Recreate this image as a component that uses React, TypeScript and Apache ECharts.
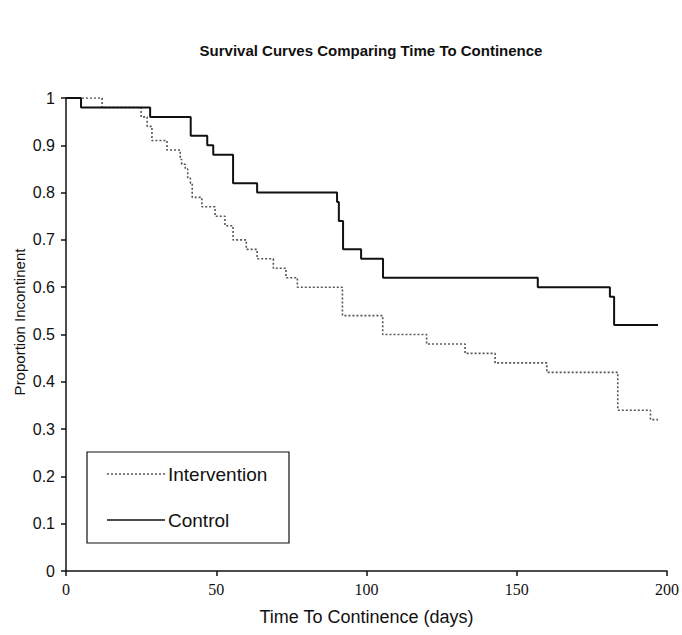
import React, { useEffect, useRef } from "react";
import * as echarts from "echarts";

const title = "Survival Curves Comparing Time To Continence";
const xAxisName = "Time To Continence (days)";
const yAxisName = "Proportion Incontinent";
const legendNames = ["Intervention", "Control"];

const interventionDays = [0, 12, 25, 27, 28.6, 33.6, 38, 38.5, 39.7, 40.5, 41.4, 42, 45.2, 49.6, 52.9, 55.6, 60, 63.6, 69, 73.2, 77, 92, 105.4, 120, 132.8, 142.8, 160, 183.6, 194.5, 197];
const interventionSurv = [1, 0.98, 0.96, 0.94, 0.91, 0.89, 0.87, 0.86, 0.85, 0.83, 0.82, 0.79, 0.77, 0.75, 0.73, 0.7, 0.68, 0.66, 0.64, 0.62, 0.6, 0.54, 0.5, 0.48, 0.46, 0.44, 0.42, 0.34, 0.32, 0.32];

const controlDays = [0, 5, 28, 41.5, 47, 49, 55.6, 63.6, 90.2, 90.8, 92.2, 98.2, 105.5, 157, 181, 182.4, 197];
const controlSurv = [1, 0.98, 0.96, 0.92, 0.9, 0.88, 0.82, 0.8, 0.78, 0.74, 0.68, 0.66, 0.62, 0.6, 0.58, 0.52, 0.52];

const yTickLabels = ["0", "0.1", "0.2", "0.3", "0.4", "0.5", "0.6", "0.7", "0.8", "0.9", "1"];

export default function App() {
  const ref = useRef<HTMLDivElement>(null);
  useEffect(() => {
    if (!ref.current) return;
    const chart = echarts.init(ref.current, null, { renderer: "svg" });
    const interData = interventionDays.map((d, i) => [d, interventionSurv[i]]);
    const ctrlData = controlDays.map((d, i) => [d, controlSurv[i]]);
    chart.setOption({
      animation: false,
      backgroundColor: "#fff",
      title: {
        text: title,
        left: 366,
        textAlign: "center",
        top: 38,
        textStyle: { fontFamily: "Liberation Sans, Arial", fontWeight: "bold", fontSize: 15, color: "#111" },
      },
      grid: { left: 66, right: 15, top: 98, bottom: 64 },
      xAxis: {
        type: "value",
        min: 0,
        max: 200,
        interval: 50,
        name: xAxisName,
        nameLocation: "middle",
        nameGap: 37,
        nameTextStyle: { fontFamily: "Liberation Sans, Arial", fontSize: 18, color: "#111" },
        axisLine: { show: true, onZero: false, lineStyle: { color: "#111", width: 1.5 } },
        axisTick: { show: true, inside: false, length: 5, lineStyle: { color: "#111", width: 1.5 } },
        axisLabel: { fontFamily: "Liberation Serif, Times New Roman", fontSize: 16, color: "#111", margin: 10 },
        splitLine: { show: false },
      },
      yAxis: {
        type: "value",
        min: 0,
        max: 1,
        interval: 0.1,
        axisLine: { show: true, lineStyle: { color: "#111", width: 1.5 } },
        axisTick: { show: true, inside: false, length: 5, lineStyle: { color: "#111", width: 1.5 } },
        axisLabel: {
          fontFamily: "Liberation Sans, Arial",
          fontSize: 16,
          color: "#111",
          margin: 11,
          formatter: (v: number) => yTickLabels[Math.round(v * 10)] ?? String(v),
        },
        splitLine: { show: false },
      },
      series: [
        {
          name: legendNames[0],
          type: "line",
          step: "end",
          data: interData,
          symbol: "none",
          lineStyle: { color: "#555", width: 1.6, type: [2, 2] },
          z: 2,
        },
        {
          name: legendNames[1],
          type: "line",
          step: "end",
          data: ctrlData,
          symbol: "none",
          lineStyle: { color: "#111", width: 2 },
          z: 3,
        },
      ],
      graphic: [
        {
          type: "text",
          x: 19,
          y: 322,
          rotation: Math.PI / 2,
          style: { text: yAxisName, fontFamily: "Liberation Sans, Arial", fontSize: 15, fill: "#111", align: "center", verticalAlign: "middle" },
          z: 5,
        },
        {
          type: "rect",
          shape: { x: 87, y: 452, width: 202, height: 91 },
          style: { fill: "#fff", stroke: "#111", lineWidth: 1.2 },
          z: 10,
        },
        {
          type: "line",
          shape: { x1: 107, y1: 474, x2: 165, y2: 474 },
          style: { stroke: "#555", lineWidth: 1.6, lineDash: [2, 2] },
          z: 11,
        },
        {
          type: "text",
          x: 168,
          y: 474,
          style: { text: legendNames[0], fontFamily: "Liberation Sans, Arial", fontSize: 19, fill: "#111", verticalAlign: "middle" },
          z: 11,
        },
        {
          type: "line",
          shape: { x1: 107, y1: 520, x2: 165, y2: 520 },
          style: { stroke: "#111", lineWidth: 1.6 },
          z: 11,
        },
        {
          type: "text",
          x: 168,
          y: 520,
          style: { text: legendNames[1], fontFamily: "Liberation Sans, Arial", fontSize: 19, fill: "#111", verticalAlign: "middle" },
          z: 11,
        },
      ],
    });
    return () => chart.dispose();
  }, []);
  return <div ref={ref} style={{ width: 682, height: 635, position: "absolute", left: 0, top: 0 }} />;
}
